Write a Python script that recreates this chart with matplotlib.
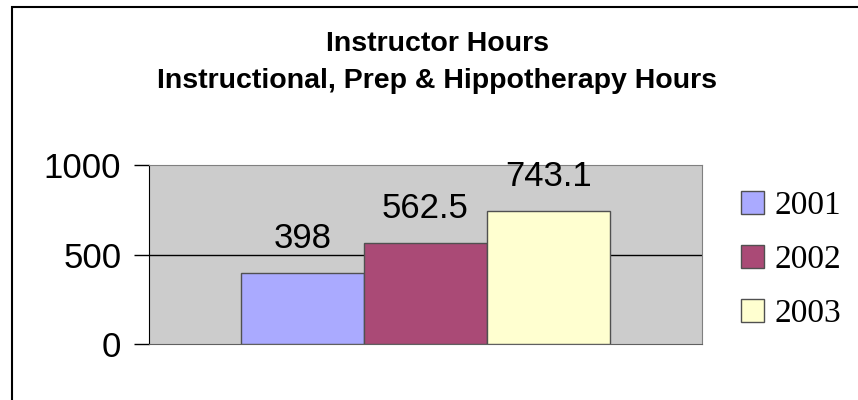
import matplotlib
matplotlib.use("Agg")
import matplotlib.pyplot as plt
from matplotlib.patches import Rectangle

years = ["2001", "2002", "2003"]
hours = [398, 562.5, 743.1]
hour_labels = ["398", "562.5", "743.1"]
colors = ["#AAAAFF", "#AA4A76", "#FFFFD0"]
yticks = [0, 500, 1000]
title_lines = ["Instructor Hours", "Instructional, Prep & Hippotherapy Hours"]

W, H = 858, 400
fig = plt.figure(figsize=(W / 100, H / 100), dpi=100)
fig.patch.set_facecolor("white")

# plot area in pixels: x 149..702, y 165..344
ax = fig.add_axes([149 / W, 1 - 344 / H, (702 - 149) / W, (344 - 165) / H])
ax.set_facecolor("#CCCCCC")

xs = [-1, 0, 1]
for x, v, c, lab, y in zip(xs, hours, colors, hour_labels, years):
    ax.bar(x, v, width=1, color=c, edgecolor="#505050", linewidth=1, label=y, zorder=3)
    ax.annotate(lab, (x, v), xytext=(0, 18), textcoords="offset points",
                ha="center", va="baseline", fontsize=25, family="Liberation Sans", zorder=4)

ax.set_xlim(-2.25, 2.25)
ax.set_ylim(0, 1000)
ax.set_xticks([])
ax.set_yticks(yticks)
ax.set_yticklabels([str(t) for t in yticks], fontsize=25, family="Liberation Sans")
ax.tick_params(axis="y", length=11, width=1, color="black", pad=9)
ax.axhline(500, color="black", lw=1, zorder=2)

for s in ["top", "right"]:
    ax.spines[s].set_color("#808080")
ax.spines["left"].set_color("black")
ax.spines["bottom"].set_color("#606060")

# two title lines, baselines at ~51 and ~88 px
for line, base in zip(title_lines, [51, 88]):
    fig.text(437 / W, 1 - base / H, line, ha="center", va="baseline",
             fontsize=20.5, fontweight="bold", family="Liberation Sans")

fig.legend(loc="center left", bbox_to_anchor=(724 / W, 1 - 260 / H),
           frameon=False, prop={"family": "Liberation Serif", "size": 24},
           handlelength=0.7, handleheight=0.68, handletextpad=0.3, labelspacing=0.7,
           borderpad=0)

fig.add_artist(Rectangle((12 / W, -0.1), 1.2, 1.1 - 7 / H, transform=fig.transFigure,
                         fill=False, edgecolor="black", lw=1.5))

fig.savefig("out.png", dpi=100)
